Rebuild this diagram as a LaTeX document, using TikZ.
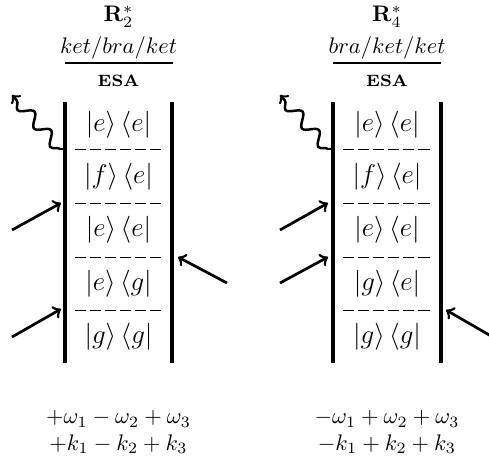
\documentclass[tikz,border=0pt]{standalone}
\usetikzlibrary{decorations.pathmorphing}
\begin{document}
\begin{tikzpicture}[x=0.444pt,y=-0.444pt,
  wall/.style={line width=1.8pt},
  sep/.style={line width=0.4pt, dash pattern=on 4.9pt off 1.8pt},
  pulse/.style={line width=1.2pt,->},
  emit/.style={line width=1.1pt,->,decorate,decoration={snake,amplitude=2.6pt,segment length=11pt,post length=3pt}},
  titlerule/.style={line width=0.8pt},
  state/.style={font=\large, inner sep=0pt},
  lbl/.style={inner sep=0pt}]
\useasboundingbox (0,0) rectangle (489,461);

% ---------- left diagram ----------
\node[lbl] (aR) at (118.5,17) {$\mathbf{R}_2^*$};
\node[lbl] (aK) at (118.5,48) {$ket/bra/ket$};
\coordinate (aRL) at (65,63); \coordinate (aRR) at (173,63);
\draw[titlerule] (aRL) -- (aRR);
\node[lbl] (aE) at (118.5,81) {\fontsize{7.3}{9}\selectfont\textbf{ESA}};
\coordinate (aLT) at (65,102); \coordinate (aLB) at (65,363);
\coordinate (aRT) at (172,102); \coordinate (aRB) at (172,363);
\draw[wall] (aLT) -- (aLB);
\draw[wall] (aRT) -- (aRB);
\foreach \y [count=\i] in {149,203,257,310} {
  \coordinate (ad\i l) at (75,\y); \coordinate (ad\i r) at (163,\y);
  \draw[sep] (ad\i l) -- (ad\i r);
}
\node[state] (a1) at (118.5,125) {$|e\rangle\,\langle e|$};
\node[state] (a2) at (118.5,177) {$|f\rangle\,\langle e|$};
\node[state] (a3) at (118.5,230) {$|e\rangle\,\langle e|$};
\node[state] (a4) at (118.5,284) {$|e\rangle\,\langle g|$};
\node[state] (a5) at (118.5,337) {$|g\rangle\,\langle g|$};
\coordinate (ap1s) at (12,230); \coordinate (ap1e) at (61,203);
\coordinate (ap2s) at (12,337); \coordinate (ap2e) at (61,309);
\coordinate (ap3s) at (227,283); \coordinate (ap3e) at (178,257);
\draw[pulse] (ap1s) -- (ap1e);
\draw[pulse] (ap2s) -- (ap2e);
\draw[pulse] (ap3s) -- (ap3e);
\coordinate (aw0) at (65,149); \coordinate (aw1) at (60,149); \coordinate (aw2) at (12,95);
\draw[line width=1.1pt] (aw0) -- (aw1);
\draw[emit] (aw1) -- (aw2);
\node[lbl] (ab1) at (118.5,419) {$+\omega_1-\omega_2+\omega_3$};
\node[lbl] (ab2) at (118.5,444) {$+k_1-k_2+k_3$};

% ---------- right diagram ----------
\node[lbl] (bR) at (387,17) {$\mathbf{R}_4^*$};
\node[lbl] (bK) at (387,48) {$bra/ket/ket$};
\coordinate (bRL) at (333,63); \coordinate (bRR) at (441,63);
\draw[titlerule] (bRL) -- (bRR);
\node[lbl] (bE) at (387,81) {\fontsize{7.3}{9}\selectfont\textbf{ESA}};
\coordinate (bLT) at (333,102); \coordinate (bLB) at (333,363);
\coordinate (bRT) at (441,102); \coordinate (bRB) at (441,363);
\draw[wall] (bLT) -- (bLB);
\draw[wall] (bRT) -- (bRB);
\foreach \y [count=\i] in {149,203,257,310} {
  \coordinate (bd\i l) at (343,\y); \coordinate (bd\i r) at (431,\y);
  \draw[sep] (bd\i l) -- (bd\i r);
}
\node[state] (b1) at (387,125) {$|e\rangle\,\langle e|$};
\node[state] (b2) at (387,177) {$|f\rangle\,\langle e|$};
\node[state] (b3) at (387,230) {$|e\rangle\,\langle e|$};
\node[state] (b4) at (387,284) {$|g\rangle\,\langle e|$};
\node[state] (b5) at (387,337) {$|g\rangle\,\langle g|$};
\coordinate (bp1s) at (280,230); \coordinate (bp1e) at (328,203);
\coordinate (bp2s) at (280,283); \coordinate (bp2e) at (328,257);
\coordinate (bp3s) at (491,336); \coordinate (bp3e) at (446,310);
\draw[pulse] (bp1s) -- (bp1e);
\draw[pulse] (bp2s) -- (bp2e);
\draw[pulse] (bp3s) -- (bp3e);
\coordinate (bw0) at (333,149); \coordinate (bw1) at (328,149); \coordinate (bw2) at (280,95);
\draw[line width=1.1pt] (bw0) -- (bw1);
\draw[emit] (bw1) -- (bw2);
\node[lbl] (bb1) at (387,419) {$-\omega_1+\omega_2+\omega_3$};
\node[lbl] (bb2) at (387,444) {$-k_1+k_2+k_3$};
\end{tikzpicture}
\end{document}
